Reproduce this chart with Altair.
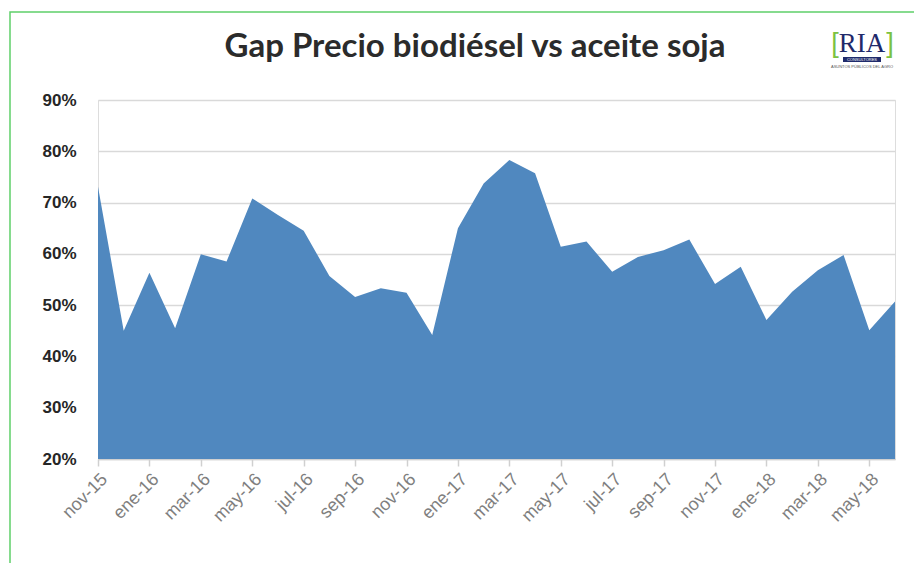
import altair as alt
import pandas as pd

months = ["nov-15", "dic-15", "ene-16", "feb-16", "mar-16", "abr-16", "may-16", "jun-16",
          "jul-16", "ago-16", "sep-16", "oct-16", "nov-16", "dic-16", "ene-17", "feb-17",
          "mar-17", "abr-17", "may-17", "jun-17", "jul-17", "ago-17", "sep-17", "oct-17",
          "nov-17", "dic-17", "ene-18", "feb-18", "mar-18", "abr-18", "may-18", "jun-18"]
gap = [73.1, 45.0, 56.3, 45.5, 59.9, 58.5, 70.8, 67.6,
       64.5, 55.7, 51.6, 53.3, 52.4, 44.2, 65.0, 73.7,
       78.3, 75.7, 61.4, 62.4, 56.5, 59.4, 60.7, 62.8,
       54.1, 57.5, 47.1, 52.6, 56.8, 59.8, 45.1, 50.7]
tick_labels = months[::2]
y_ticks = [20, 30, 40, 50, 60, 70, 80, 90]
title_text = "Gap Precio biodiésel vs aceite soja"

df = pd.DataFrame({"mes": months, "gap": gap})

W, H = 797, 359

area = alt.Chart(df).mark_area(color="#5088bf", opacity=1, clip=True).encode(
    x=alt.X("mes:O", sort=months,
            scale=alt.Scale(type="point", padding=0),
            axis=alt.Axis(values=tick_labels, title=None, labelAngle=-45,
                          labelColor="#7f7f7f", labelFontSize=18, labelFont="Liberation Sans",
                          domainColor="#d0d0d0", domainWidth=1.5, tickColor="#d0d0d0",
                          tickSize=7, tickWidth=1.5, labelPadding=4, grid=False)),
    y=alt.Y("gap:Q", scale=alt.Scale(domain=[20, 90], nice=False, zero=False),
            axis=alt.Axis(values=y_ticks, title=None, labelExpr="datum.value + '%'",
                          labelFont="Liberation Sans", labelFontWeight="bold",
                          labelFontSize=17, labelColor="#262626", labelPadding=22,
                          ticks=False, domain=False, gridColor="#d9d9d9", gridWidth=1.5)),
    y2=alt.datum(20),
)

border = alt.Chart(pd.DataFrame({"k": [0]})).mark_rect(
    fill=None, stroke="#5fcf6a", strokeWidth=1.5
).encode(x=alt.value(-88), x2=alt.value(W + 100), y=alt.value(-88), y2=alt.value(H + 200))

title = alt.Chart(pd.DataFrame({"t": [title_text]})).mark_text(
    font="Lato", fontSize=33, fontWeight="bold", color="#2b2b2b", align="center", baseline="alphabetic"
).encode(text="t:N", x=alt.value(377), y=alt.value(-43))

logo_main = alt.Chart(pd.DataFrame({"t": ["RIA"]})).mark_text(
    font="Liberation Serif", fontSize=27, color="#1f2a6b", align="center", baseline="alphabetic"
).encode(text="t:N", x=alt.value(764), y=alt.value(-48))

logo_br = alt.Chart(pd.DataFrame({"t": ["[", "]"], "xx": [737, 792]})).mark_text(
    font="Liberation Sans", fontSize=27, color="#7cc242", align="center", baseline="alphabetic"
).encode(text="t:N", x=alt.X("xx:Q", scale=None), y=alt.value(-48))

logo_bar = alt.Chart(pd.DataFrame({"k": [0]})).mark_rect(color="#1f2a6b").encode(
    x=alt.value(745), x2=alt.value(783), y=alt.value(-43), y2=alt.value(-38))

logo_sub = alt.Chart(pd.DataFrame({"t": ["CONSULTORES"]})).mark_text(
    font="Liberation Sans", fontSize=4, color="white", align="center", baseline="middle"
).encode(text="t:N", x=alt.value(764), y=alt.value(-40.5))

logo_sub2 = alt.Chart(pd.DataFrame({"t": ["ASUNTOS PÚBLICOS DEL AGRO"]})).mark_text(
    font="Liberation Sans", fontSize=4, color="#555555", align="center", baseline="top"
).encode(text="t:N", x=alt.value(764), y=alt.value(-35))

chart = alt.layer(area, border, title, logo_main, logo_br, logo_bar, logo_sub, logo_sub2).properties(
    width=W, height=H,
    autosize=alt.AutoSizeParams(type="none"),
    padding={"left": 90, "top": 92, "right": 19, "bottom": 104},
).configure_view(stroke=None).configure(background="white")

chart.save("out.html", embed_options={"renderer": "svg", "actions": False})
